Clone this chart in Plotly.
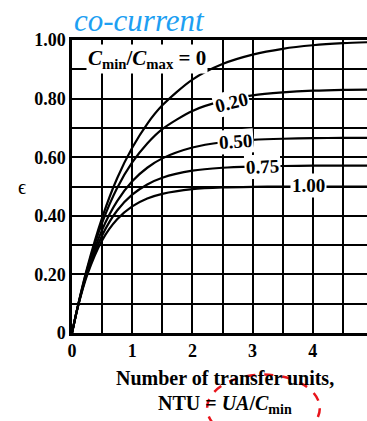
import plotly.graph_objects as go

ntu = [0, 0.1, 0.25, 0.5, 0.75, 1.0, 1.25, 1.5, 2.0, 2.5, 3.0, 3.5, 4.0, 4.5, 5.0]
eff_c000 = [0, 0.095, 0.221, 0.393, 0.528, 0.632, 0.714, 0.777, 0.865, 0.918, 0.950, 0.970, 0.982, 0.989, 0.993]
eff_c020 = [0, 0.094, 0.216, 0.376, 0.495, 0.582, 0.647, 0.696, 0.758, 0.792, 0.811, 0.821, 0.827, 0.830, 0.831]
eff_c050 = [0, 0.093, 0.208, 0.352, 0.450, 0.518, 0.564, 0.596, 0.633, 0.651, 0.659, 0.663, 0.665, 0.666, 0.666]
eff_c075 = [0, 0.092, 0.203, 0.333, 0.418, 0.472, 0.507, 0.530, 0.554, 0.564, 0.568, 0.570, 0.571, 0.571, 0.571]
eff_c100 = [0, 0.091, 0.197, 0.316, 0.388, 0.432, 0.459, 0.475, 0.491, 0.497, 0.499, 0.4995, 0.4998, 0.4999, 0.500]

series = [eff_c000, eff_c020, eff_c050, eff_c075, eff_c100]

x_tickvals = [0, 1, 2, 3, 4]
x_ticktext = ["0", "1", "2", "3", "4"]
y_tickvals = [0, 0.2, 0.4, 0.6, 0.8, 1.0]
y_ticktext = ["0", "0.20", "0.40", "0.60", "0.80", "1.00"]

# curve labels: (text, ntu, eff, angle, size)
curve_labels = [
    ("<i>C</i><sub>min</sub>/<i>C</i><sub>max</sub> = 0", 1.24, 0.935, 0, 21),
    ("0.20", 2.65, 0.786, -14, 19),
    ("0.50", 2.71, 0.653, -4, 19),
    ("0.75", 3.17, 0.568, -3, 19),
    ("1.00", 3.93, 0.503, 0, 19),
]

SERIF = "Liberation Serif"

fig = go.Figure()
for ys in series:
    fig.add_trace(go.Scatter(x=ntu, y=ys, mode="lines",
                             line=dict(color="black", width=2.2, shape="spline", smoothing=0.8),
                             hoverinfo="skip", showlegend=False))

for text, xv, yv, ang, sz in curve_labels:
    fig.add_annotation(x=xv, y=yv, xref="x", yref="y", text="<b>" + text + "</b>",
                       showarrow=False, bgcolor="white", textangle=ang,
                       font=dict(family=SERIF, size=sz, color="black"), borderpad=1)

# title
fig.add_annotation(x=0.0, y=1.068, xref="paper", yref="paper", xanchor="left", yanchor="middle",
                   text="<i>co-current</i>", showarrow=False,
                   font=dict(family=SERIF, size=31, color="#1E9FF2"))
# y axis title
fig.add_annotation(x=-0.19, y=0.5, xref="paper", yref="paper", text="ϵ", showarrow=False,
                   font=dict(family=SERIF, size=20, color="black"))
# x axis title
fig.add_annotation(x=0.52, y=-0.155, xref="paper", yref="paper", yanchor="middle",
                   text="<b>Number of transfer units,</b>", showarrow=False,
                   font=dict(family=SERIF, size=20, color="black"))
fig.add_annotation(x=0.52, y=-0.245, xref="paper", yref="paper", yanchor="middle",
                   text="<b>NTU = <i>UA</i>/<i>C</i><sub>min</sub></b>", showarrow=False,
                   font=dict(family=SERIF, size=20, color="black"))

# red dashed ellipse highlight
fig.add_shape(type="circle", xref="paper", yref="paper",
              x0=0.458, x1=0.84, y0=-0.372, y1=-0.142,
              line=dict(color="#E8141B", width=2.5, dash="dash"))

fig.update_xaxes(range=[0, 4.9], tickvals=x_tickvals, ticktext=["<b>" + t + "</b>" for t in x_ticktext],
                 showgrid=True, gridcolor="black", gridwidth=1.5,
                 minor=dict(dtick=0.5, showgrid=True, gridcolor="black", gridwidth=1.5),
                 showline=True, linecolor="black", linewidth=2.5, mirror=True,
                 zeroline=False, ticks="", ticklen=0,
                 tickfont=dict(family=SERIF, size=18, color="black"))
fig.update_yaxes(range=[0, 1.0], tickvals=y_tickvals, ticktext=["<b>" + t + "</b>" for t in y_ticktext],
                 showgrid=True, gridcolor="black", gridwidth=1.5,
                 minor=dict(dtick=0.1, showgrid=True, gridcolor="black", gridwidth=1.5),
                 showline=True, linecolor="black", linewidth=2.5,
                 zeroline=False, ticks="", ticklen=0,
                 tickfont=dict(family=SERIF, size=18, color="black"))

fig.update_layout(width=367, height=421, margin=dict(l=72, r=0, t=40, b=88),
                  plot_bgcolor="white", paper_bgcolor="white", showlegend=False)

fig.write_html("out.html", config={"displayModeBar": False},
               post_script="document.body.style.margin='0';document.body.style.overflow='hidden';")
